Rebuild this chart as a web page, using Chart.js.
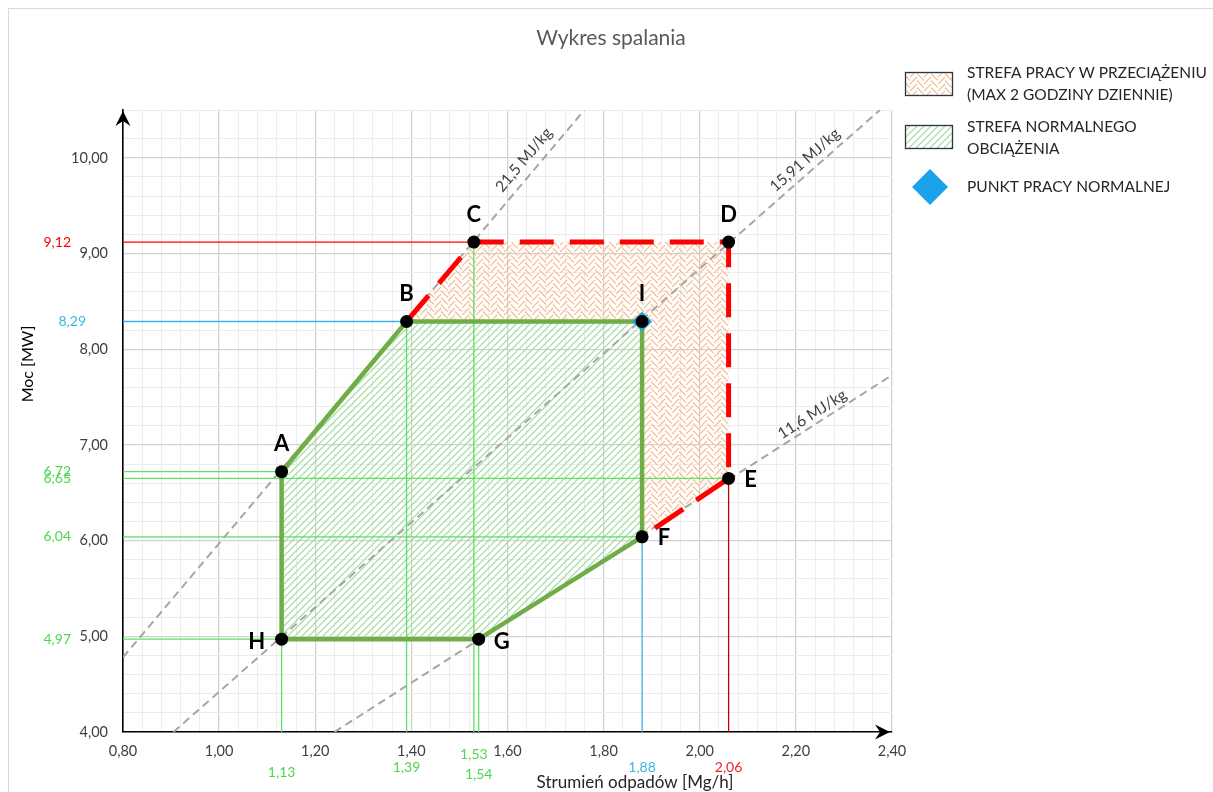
<!DOCTYPE html>
<html>
<head>
<meta charset="utf-8">
<title>Wykres spalania</title>
<script src="https://cdn.jsdelivr.net/npm/chart.js@4.4.1/dist/chart.umd.min.js"></script>
<style>
  html, body { margin: 0; padding: 0; background: #fff; }
  #wrap { width: 1213px; height: 792px; position: relative; }
</style>
</head>
<body>
<div id="wrap"><canvas id="chart"></canvas></div>
<script>
// ---------- Data ----------
const xTickValues = [0.8, 1.0, 1.2, 1.4, 1.6, 1.8, 2.0, 2.2, 2.4];
const xTickLabels = ["0,80", "1,00", "1,20", "1,40", "1,60", "1,80", "2,00", "2,20", "2,40"];
const yTickValues = [4, 5, 6, 7, 8, 9, 10];
const yTickLabels = ["4,00", "5,00", "6,00", "7,00", "8,00", "9,00", "10,00"];

// working points of the combustion chart
const pointNames = ["A", "B", "C", "D", "E", "F", "G", "H", "I"];
const pointX = [1.13, 1.39, 1.53, 2.06, 2.06, 1.88, 1.54, 1.13, 1.88];
const pointY = [6.72, 8.29, 9.12, 9.12, 6.65, 6.04, 4.97, 4.97, 8.29];

// zones as point sequences
const normalZone = ["A", "B", "I", "F", "G", "H", "A"];
const overloadZone = ["B", "C", "D", "E", "F", "I", "B"];
const overloadEdge = ["B", "C", "D", "E", "F"];
const normalPoint = "I";

// calorific value lines
const mjLabels = ["21,5 MJ/kg", "15,91 MJ/kg", "11,6 MJ/kg"];
const mjStartX = [0.80, 0.905, 1.24];
const mjStartY = [4.78, 4.00, 4.00];
const mjEndX = [1.76, 2.375, 2.40];
const mjEndY = [10.50, 10.50, 7.73];
const mjLabelX = [1.634, 2.219, 2.234];
const mjLabelY = [9.98, 9.977, 7.32];

// reference lines to the axes
const refYValues = [9.12, 8.29, 6.72, 6.65, 6.04, 4.97];
const refYEndX = [1.53, 1.39, 1.13, 2.06, 1.88, 1.13];
const refYLabels = ["9,12", "8,29", "6,72", "6,65", "6,04", "4,97"];
const refXValues = [1.13, 1.39, 1.53, 1.54, 1.88, 2.06];
const refXEndY = [6.72, 8.29, 9.12, 4.97, 6.04, 6.65];
const refXLabels = ["1,13", "1,39", "1,53", "1,54", "1,88", "2,06"];

const legendLabels = [
  ["STREFA PRACY W PRZECIĄŻENIU", "(MAX 2 GODZINY DZIENNIE)"],
  ["STREFA NORMALNEGO", "OBCIĄŻENIA"],
  ["PUNKT PRACY NORMALNEJ"]
];

// ---------- Styles ----------
const FONT = "Lato, 'Open Sans', sans-serif";
const RED = "#ff0000";
const DARK_RED = "#c00000";
const BLUE = "#3db5e6";
const GREEN_REF = "#5fe05f";
const refYColors = [RED, BLUE, GREEN_REF, GREEN_REF, GREEN_REF, GREEN_REF];
const refXColors = [GREEN_REF, GREEN_REF, GREEN_REF, GREEN_REF, BLUE, DARK_RED];
const refYLabelRight = [71, 86, 71, 71, 71, 71];
const refXLabelDy = [40, 35, 22, 42, 35, 35];
// letter offsets from their point, px
const letterDx = [0, 0, 0, 0, 22, 22, 23, -25, 0];
const letterDy = [-28, -28, -27, -27, 1, 1, 3, 3, -28];

function pt(name) {
  const i = pointNames.indexOf(name);
  return { x: pointX[i], y: pointY[i] };
}

// ---------- Patterns ----------
function makeHatch() {
  const c = document.createElement("canvas");
  c.width = 7; c.height = 7;
  const g = c.getContext("2d");
  g.strokeStyle = "#9adb9a";
  g.lineWidth = 1.2;
  g.beginPath();
  g.moveTo(-1, 8); g.lineTo(8, -1);
  g.moveTo(-1, 1); g.lineTo(1, -1);
  g.moveTo(6, 8); g.lineTo(8, 6);
  g.stroke();
  return g.createPattern(c, "repeat");
}

function makeHerringbone() {
  const c = document.createElement("canvas");
  c.width = 14; c.height = 14;
  const g = c.getContext("2d");
  g.strokeStyle = "#f6bd8f";
  g.lineWidth = 1.2;
  g.beginPath();
  for (let y = -14; y <= 28; y += 7) {
    g.moveTo(0, y + 7); g.lineTo(7, y);
    g.moveTo(7, y + 3.5); g.lineTo(14, y + 10.5);
  }
  g.stroke();
  return g.createPattern(c, "repeat");
}

const hatch = makeHatch();
const herring = makeHerringbone();

// ---------- Datasets ----------
const lineBase = { type: "line", pointRadius: 0, pointHoverRadius: 0, tension: 0, fill: false };

const datasets = [];

datasets.push({
  ...lineBase, label: "overload", order: 9,
  data: overloadZone.map(pt), borderWidth: 0, borderColor: "rgba(0,0,0,0)",
  backgroundColor: herring, fill: "shape"
});
datasets.push({
  ...lineBase, label: "normal", order: 8,
  data: normalZone.map(pt), borderWidth: 0, borderColor: "rgba(0,0,0,0)",
  backgroundColor: hatch, fill: "shape"
});

mjLabels.forEach((l, i) => {
  datasets.push({
    ...lineBase, label: l, order: 7,
    data: [{ x: mjStartX[i], y: mjStartY[i] }, { x: mjEndX[i], y: mjEndY[i] }],
    borderColor: "#a6a6a6", borderWidth: 2, borderDash: [8, 5]
  });
});

refYValues.forEach((v, i) => {
  datasets.push({
    ...lineBase, label: "ry" + i, order: 6,
    data: [{ x: xTickValues[0], y: v }, { x: refYEndX[i], y: v }],
    borderColor: refYColors[i], borderWidth: 1.3
  });
});
refXValues.forEach((v, i) => {
  datasets.push({
    ...lineBase, label: "rx" + i, order: 6,
    data: [{ x: v, y: yTickValues[0] }, { x: v, y: refXEndY[i] }],
    borderColor: refXColors[i], borderWidth: 1.3
  });
});

datasets.push({
  ...lineBase, label: "normal edge", order: 4,
  data: normalZone.map(pt), borderColor: "#70ad47", borderWidth: 4.5,
  borderJoinStyle: "round"
});
datasets.push({
  ...lineBase, label: "overload edge", order: 3,
  data: overloadEdge.map(pt), borderColor: RED, borderWidth: 5,
  borderDash: [34, 16], borderCapStyle: "butt"
});

datasets.push({
  type: "line", label: "punkt", order: 2, showLine: false,
  data: [pt(normalPoint)], pointStyle: "rectRot", pointRadius: 10,
  pointBackgroundColor: "#1aa3e8", pointBorderWidth: 0
});
datasets.push({
  type: "line", label: "points", order: 1, showLine: false,
  data: pointNames.map(pt), pointRadius: 6.5,
  pointBackgroundColor: "#000", pointBorderWidth: 0
});

// ---------- Decorations ----------
function arrowHead(g, x, y, angle) {
  g.save();
  g.translate(x, y);
  g.rotate(angle);
  g.beginPath();
  g.moveTo(0, 0);
  g.lineTo(-15, -7.5);
  g.lineTo(-10, 0);
  g.lineTo(-15, 7.5);
  g.closePath();
  g.fillStyle = "#000";
  g.fill();
  g.restore();
}

const decorPlugin = {
  id: "decor",
  beforeDraw(chart) {
    const g = chart.ctx;
    g.save();
    g.fillStyle = "#fff";
    g.fillRect(0, 0, chart.width, chart.height);
    g.strokeStyle = "#d9d9d9";
    g.lineWidth = 1;
    g.strokeRect(8.5, 8.5, chart.width + 20, chart.height + 20);
    g.restore();
  },
  afterDraw(chart) {
    const g = chart.ctx;
    const xs = chart.scales.x, ys = chart.scales.y;
    const area = chart.chartArea;
    g.save();

    // axis arrows
    arrowHead(g, area.left, area.top + 1, -Math.PI / 2);
    arrowHead(g, area.right - 2, area.bottom, 0);

    // title
    g.fillStyle = "#595959";
    g.font = "21px " + FONT;
    g.textAlign = "center";
    g.textBaseline = "middle";
    g.fillText("Wykres spalania", 611, 38);

    // axis titles
    g.fillStyle = "#262626";
    g.font = "17px " + FONT;
    g.fillText("Strumień odpadów [Mg/h]", 635, 783);
    g.save();
    g.translate(28, 364);
    g.rotate(-Math.PI / 2);
    g.fillStyle = "#000";
    g.font = "16px " + FONT;
    g.fillText("Moc [MW]", 0, 0);
    g.restore();

    // reference value labels
    g.font = "14px " + FONT;
    g.textAlign = "right";
    refYValues.forEach((v, i) => {
      g.fillStyle = refYColors[i] === GREEN_REF ? "#4cd64c" : refYColors[i];
      g.fillText(refYLabels[i], refYLabelRight[i], ys.getPixelForValue(v));
    });
    g.textAlign = "center";
    refXValues.forEach((v, i) => {
      g.fillStyle = refXColors[i] === GREEN_REF ? "#4cd64c" : (refXColors[i] === DARK_RED ? "#e8262a" : refXColors[i]);
      g.fillText(refXLabels[i], xs.getPixelForValue(v), area.bottom + refXLabelDy[i]);
    });

    // calorific value labels along lines
    g.fillStyle = "#404040";
    g.font = "15.5px " + FONT;
    mjLabels.forEach((l, i) => {
      const x1 = xs.getPixelForValue(mjStartX[i]), y1 = ys.getPixelForValue(mjStartY[i]);
      const x2 = xs.getPixelForValue(mjEndX[i]), y2 = ys.getPixelForValue(mjEndY[i]);
      g.save();
      g.translate(xs.getPixelForValue(mjLabelX[i]), ys.getPixelForValue(mjLabelY[i]));
      g.rotate(Math.atan2(y2 - y1, x2 - x1));
      g.fillText(l, 0, 0);
      g.restore();
    });

    // point letters
    g.fillStyle = "#000";
    g.font = "bold 22px " + FONT;
    pointNames.forEach((n, i) => {
      g.fillText(n, xs.getPixelForValue(pointX[i]) + letterDx[i], ys.getPixelForValue(pointY[i]) + letterDy[i]);
    });

    // legend
    g.lineWidth = 1.3;
    g.strokeStyle = "#2b3440";
    g.fillStyle = herring;
    g.fillRect(905, 72, 47, 23);
    g.strokeRect(905.5, 72.5, 47, 23);
    g.fillStyle = hatch;
    g.fillRect(905, 125, 47, 23);
    g.strokeRect(905.5, 125.5, 47, 23);
    g.beginPath();
    g.moveTo(930, 169); g.lineTo(948, 187); g.lineTo(930, 205); g.lineTo(912, 187);
    g.closePath();
    g.fillStyle = "#1aa3e8";
    g.fill();

    g.fillStyle = "#262626";
    g.font = "15.5px " + FONT;
    g.textAlign = "left";
    const legendY = [[73, 95], [127, 149], [187]];
    legendLabels.forEach((lines, i) => {
      lines.forEach((t, j) => g.fillText(t, 967, legendY[i][j]));
    });

    g.restore();
  }
};

// ---------- Chart ----------
function tickLabel(values, labels) {
  return (v) => {
    const i = values.findIndex((t) => Math.abs(t - v) < 1e-6);
    return i >= 0 ? labels[i] : "";
  };
}
function isMajor(values, v) {
  return values.some((t) => Math.abs(t - v) < 1e-6);
}

new Chart(document.getElementById("chart"), {
  type: "line",
  data: { datasets },
  options: {
    responsive: true,
    maintainAspectRatio: false,
    animation: false,
    events: [],
    layout: { padding: { top: 110, right: 321, bottom: 0, left: 0 } },
    plugins: {
      legend: { display: false },
      tooltip: { enabled: false },
      title: { display: false }
    },
    scales: {
      x: {
        type: "linear",
        min: 0.8,
        max: 2.4,
        afterFit: (s) => { s.height = 60; },
        ticks: {
          stepSize: 0.04,
          autoSkip: false,
          maxRotation: 0,
          minRotation: 0,
          padding: 11,
          color: "#404040",
          font: { family: FONT, size: 14.5 },
          callback: tickLabel(xTickValues, xTickLabels)
        },
        grid: {
          drawTicks: false,
          color: (c) => (c.tick && isMajor(xTickValues, c.tick.value) ? "#d2d2d2" : "#ececec"),
          lineWidth: (c) => (c.tick && isMajor(xTickValues, c.tick.value) ? 1.3 : 1)
        },
        border: { display: true, color: "#000", width: 1.6 }
      },
      y: {
        type: "linear",
        min: 4,
        max: 10.5,
        afterFit: (s) => { s.width = 123; },
        ticks: {
          stepSize: 0.2,
          autoSkip: false,
          padding: 15,
          color: "#404040",
          font: { family: FONT, size: 14.5 },
          callback: tickLabel(yTickValues, yTickLabels)
        },
        grid: {
          drawTicks: false,
          color: (c) => (c.tick && isMajor(yTickValues, c.tick.value) ? "#d2d2d2" : "#ececec"),
          lineWidth: (c) => (c.tick && isMajor(yTickValues, c.tick.value) ? 1.3 : 1)
        },
        border: { display: true, color: "#000", width: 1.6 }
      }
    }
  },
  plugins: [decorPlugin]
});
</script>
</body>
</html>
